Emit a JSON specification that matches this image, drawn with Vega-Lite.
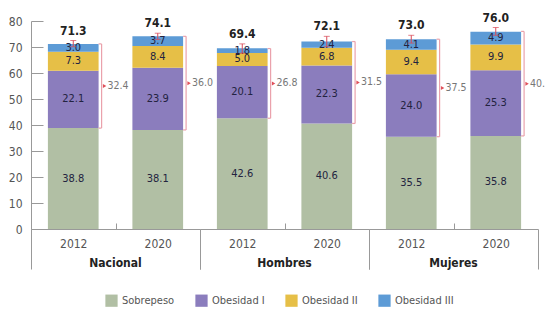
{
  "$schema": "https://vega.github.io/schema/vega-lite/v6.json",
  "padding": {"left": 8, "top": 11, "right": 0, "bottom": 0},
  "bounds": "flush",
  "data": {"values": [
    {"grupo": "Nacional", "anio": "2012", "Sobrepeso": 38.8, "Obesidad I": 22.1, "Obesidad II": 7.3, "Obesidad III": 3.0, "total": 71.3, "obesidad": 32.4, "ic_inf": 70.1, "ic_sup": 72.5},
    {"grupo": "Nacional", "anio": "2020", "Sobrepeso": 38.1, "Obesidad I": 23.9, "Obesidad II": 8.4, "Obesidad III": 3.7, "total": 74.1, "obesidad": 36.0, "ic_inf": 72.9, "ic_sup": 75.3},
    {"grupo": "Hombres", "anio": "2012", "Sobrepeso": 42.6, "Obesidad I": 20.1, "Obesidad II": 5.0, "Obesidad III": 1.8, "total": 69.4, "obesidad": 26.8, "ic_inf": 67.6, "ic_sup": 71.2},
    {"grupo": "Hombres", "anio": "2020", "Sobrepeso": 40.6, "Obesidad I": 22.3, "Obesidad II": 6.8, "Obesidad III": 2.4, "total": 72.1, "obesidad": 31.5, "ic_inf": 70.1, "ic_sup": 74.1},
    {"grupo": "Mujeres", "anio": "2012", "Sobrepeso": 35.5, "Obesidad I": 24.0, "Obesidad II": 9.4, "Obesidad III": 4.1, "total": 73.0, "obesidad": 37.5, "ic_inf": 71.5, "ic_sup": 74.5},
    {"grupo": "Mujeres", "anio": "2020", "Sobrepeso": 35.8, "Obesidad I": 25.3, "Obesidad II": 9.9, "Obesidad III": 4.9, "total": 76.0, "obesidad": 40.2, "ic_inf": 74.5, "ic_sup": 77.5}
  ]},
  "facet": {
    "column": {
      "field": "grupo", "type": "nominal",
      "sort": ["Nacional", "Hombres", "Mujeres"],
      "header": {"title": null, "labelOrient": "bottom", "labelFontWeight": "bold", "labelFontSize": 12, "labelFont": "DejaVu Sans Condensed", "labelColor": "#222", "labelPadding": -12}
    }
  },
  "spacing": 0,
  "spec": {
    "width": 169,
    "height": 208,
    "encoding": {
      "x": {
        "field": "anio", "type": "nominal", "title": null,
        "scale": {"paddingInner": 0, "paddingOuter": 0},
        "axis": {
          "labelAngle": 0, "tickBand": "extent", "domain": true, "ticks": true, "domainColor": "#999", "domainWidth": 1, "tickColor": "#999", "tickWidth": 1,
          "tickSize": {"condition": {"test": "datum.value === '2012'", "value": -6}, "value": 40},
          "labelPadding": {"condition": {"test": "datum.value === '2012'", "value": 15}, "value": -31},
          "labelColor": "#555", "labelFontSize": 12, "labelFont": "DejaVu Sans Condensed"
        }
      }
    },
    "layer": [
      {
        "transform": [
          {"fold": ["Sobrepeso", "Obesidad I", "Obesidad II", "Obesidad III"], "as": ["categoria", "valor"]},
          {"calculate": "indexof(['Sobrepeso','Obesidad I','Obesidad II','Obesidad III'], datum.categoria)", "as": "orden"},
          {"stack": "valor", "groupby": ["grupo", "anio"], "sort": [{"field": "orden", "order": "ascending"}], "as": ["y0", "y1"]},
          {"calculate": "(datum.y0 + datum.y1) / 2", "as": "ymid"}
        ],
        "layer": [
          {
            "mark": {"type": "bar", "width": {"band": 0.6}},
            "encoding": {
              "y": {"field": "y0", "type": "quantitative", "title": null,
                "scale": {"domain": [0, 80], "nice": false}},
              "y2": {"field": "y1"},
              "color": {
                "field": "categoria", "type": "nominal", "title": null,
                "scale": {"domain": ["Sobrepeso", "Obesidad I", "Obesidad II", "Obesidad III"], "range": ["#b1bfa4", "#8b7dbd", "#e6bf47", "#5d9bd6"]},
                "legend": {"orient": "bottom", "direction": "horizontal", "symbolType": "square", "symbolSize": 150, "symbolStrokeWidth": 0, "labelFontSize": 11, "labelFont": "DejaVu Sans Condensed", "labelColor": "#555", "columnPadding": 20, "offset": 24}
              }
            }
          },
          {
            "mark": {"type": "text", "fontSize": 11, "font": "DejaVu Sans Condensed", "color": "#232340"},
            "encoding": {
              "y": {"field": "ymid", "type": "quantitative"},
              "text": {"field": "valor", "type": "quantitative", "format": ".1f"}
            }
          }
        ]
      },
      {
        "transform": [
          {"calculate": "datum.Sobrepeso + datum.obesidad", "as": "tope"},
          {"calculate": "datum.Sobrepeso + datum.obesidad / 2", "as": "omid"}
        ],
        "layer": [
          {"mark": {"type": "rule", "color": "#d94a57", "strokeWidth": 1},
           "encoding": {"y": {"field": "ic_inf", "type": "quantitative"}, "y2": {"field": "ic_sup"}}},
          {"mark": {"type": "tick", "color": "#d94a57", "size": 6, "thickness": 1},
           "encoding": {"y": {"field": "ic_sup", "type": "quantitative"}}},
          {"mark": {"type": "tick", "color": "#d94a57", "size": 6, "thickness": 1},
           "encoding": {"y": {"field": "ic_inf", "type": "quantitative"}}},
          {"mark": {"type": "text", "fontSize": 12, "fontWeight": "bold", "font": "DejaVu Sans Condensed", "color": "#222", "baseline": "bottom", "dy": -3},
           "encoding": {"y": {"field": "ic_sup", "type": "quantitative"}, "text": {"field": "total", "type": "quantitative", "format": ".1f"}}},
          {"mark": {"type": "rule", "color": "#eaa2ac", "strokeWidth": 1.2, "xOffset": 3},
           "encoding": {"x": {"field": "anio", "type": "nominal", "bandPosition": 0.8}, "y": {"field": "Sobrepeso", "type": "quantitative"}, "y2": {"field": "tope"}}},
          {"mark": {"type": "rule", "color": "#eaa2ac", "strokeWidth": 1.2, "xOffset": 0, "x2Offset": 3},
           "encoding": {"x": {"field": "anio", "type": "nominal", "bandPosition": 0.8}, "x2": {"field": "anio", "bandPosition": 0.8}, "y": {"field": "Sobrepeso", "type": "quantitative"}}},
          {"mark": {"type": "rule", "color": "#eaa2ac", "strokeWidth": 1.2, "xOffset": 0, "x2Offset": 3},
           "encoding": {"x": {"field": "anio", "type": "nominal", "bandPosition": 0.8}, "x2": {"field": "anio", "bandPosition": 0.8}, "y": {"field": "tope", "type": "quantitative"}}},
          {"mark": {"type": "point", "shape": "triangle-right", "filled": true, "color": "#e0505a", "size": 16, "opacity": 1, "xOffset": 6},
           "encoding": {"x": {"field": "anio", "type": "nominal", "bandPosition": 0.8}, "y": {"field": "omid", "type": "quantitative"}}},
          {"mark": {"type": "text", "align": "left", "fontSize": 10.5, "font": "DejaVu Sans Condensed", "color": "#777", "xOffset": 9},
           "encoding": {"x": {"field": "anio", "type": "nominal", "bandPosition": 0.8}, "y": {"field": "omid", "type": "quantitative"}, "text": {"field": "obesidad", "type": "quantitative", "format": ".1f"}}}
        ]
      }
    ]
  },
  "config": {
    "view": {"stroke": null},
    "legend": {"layout": {"anchor": "middle"}},
    "axisY": {"tickCount": 8, "grid": false, "labelOverlap": false, "domain": true, "ticks": true, "domainColor": "#999", "domainWidth": 1, "tickColor": "#999", "tickWidth": 1, "tickSize": -12, "labelPadding": 21, "labelColor": "#555", "labelFontSize": 12, "labelFont": "DejaVu Sans Condensed"}
  }
}
